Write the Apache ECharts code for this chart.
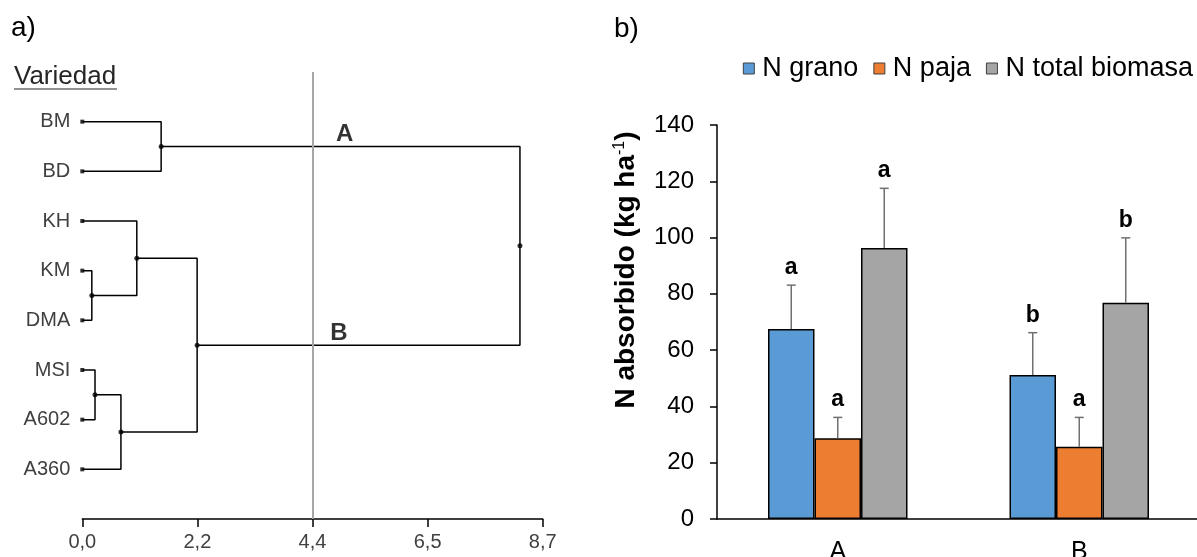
<!DOCTYPE html>
<html>
<head>
<meta charset="utf-8">
<script src="https://cdn.jsdelivr.net/npm/echarts@6/dist/echarts.min.js"></script>
<style>
html,body{margin:0;padding:0;background:#fff;}
#main{width:1197px;height:557px;}
</style>
</head>
<body>
<div id="main"></div>
<script>
var chart = echarts.init(document.getElementById('main'));

// a) dendrograma
var leaves = ['BM', 'BD', 'KH', 'KM', 'DMA', 'MSI', 'A602', 'A360'];
// fusiones estilo hclust: negativo = hoja, positivo = fusion anterior
var mergeLeft = [-4, -6, 2, -3, -1, 4, 5];
var mergeRight = [-5, -7, -8, 1, -2, 3, 6];
var mergeHeight = [0.18, 0.24, 0.73, 1.03, 1.49, 2.17, 8.27];
var xTickLabels = ['0,0', '2,2', '4,4', '6,5', '8,7'];
var cutHeight = 4.35;
var clusterNames = ['A', 'B'];

// b) barras
var groups = ['A', 'B'];
var seriesNames = ['N grano', 'N paja', 'N total biomasa'];
var grano = [67.5, 51.2];
var granoSd = [15.6, 15.0];
var paja = [28.7, 25.7];
var pajaSd = [7.4, 10.4];
var total = [96.3, 76.8];
var totalSd = [21.2, 23.1];
var granoLetters = ['a', 'b'];
var pajaLetters = ['a', 'a'];
var totalLetters = ['a', 'b'];

var colors = ['#5B9BD5', '#ED7D31', '#A5A5A5'];
var BAR_W = 46.5;
var FONT = 'Liberation Sans, Arial, sans-serif';

// posiciones de nodos en el dendrograma
var nodeY = [], nodeH = [];
function childPos(c) {
    if (c < 0) return [0, -c - 1];
    return [nodeH[c - 1], nodeY[c - 1]];
}
var dendroSeries = [];
var nodePoints = [];
for (var k = 0; k < mergeHeight.length; k++) {
    var a = childPos(mergeLeft[k]);
    var b = childPos(mergeRight[k]);
    var h = mergeHeight[k];
    nodeH[k] = h;
    nodeY[k] = (a[1] + b[1]) / 2;
    dendroSeries.push({
        type: 'line',
        xAxisIndex: 0,
        yAxisIndex: 0,
        data: [[a[0], a[1]], [h, a[1]], [h, b[1]], [b[0], b[1]]],
        symbol: 'none',
        silent: true,
        lineStyle: {color: '#000', width: 1.5},
        z: 3
    });
    nodePoints.push([h, nodeY[k]]);
}
var leafPoints = leaves.map(function (n, i) { return [0, i]; });

// la linea de corte
dendroSeries[0].markLine = {
    silent: true,
    symbol: 'none',
    label: {show: false},
    lineStyle: {color: '#a6a6a6', width: 2, type: 'solid'},
    data: [{xAxis: cutHeight}]
};

// etiquetas de los grupos sobre las ramas de la ultima fusion
var last = mergeHeight.length - 1;
var topA = childPos(mergeLeft[last]);
var topB = childPos(mergeRight[last]);
var clusterPts = [[4.96, topA[1], clusterNames[0]], [4.85, topB[1], clusterNames[1]]];

function errSeries(idx, means, sds, letters) {
    var data = means.map(function (m, i) { return [i, m, sds[i], letters[i]]; });
    return {
        type: 'custom',
        xAxisIndex: 1,
        yAxisIndex: 1,
        silent: true,
        z: 10,
        data: data,
        renderItem: function (params, api) {
            var base = api.coord([api.value(0), api.value(1)]);
            var top = api.coord([api.value(0), api.value(1) + api.value(2)]);
            var x = base[0] + (idx - 1) * BAR_W;
            var letter = letters[params.dataIndex];
            return {
                type: 'group',
                children: [
                    {type: 'line', shape: {x1: x, y1: base[1], x2: x, y2: top[1]},
                        style: {stroke: '#707070', lineWidth: 1.5}},
                    {type: 'line', shape: {x1: x - 4.5, y1: top[1], x2: x + 4.5, y2: top[1]},
                        style: {stroke: '#707070', lineWidth: 1.5}},
                    {type: 'text', x: x, y: top[1] - 6,
                        style: {text: letter, textAlign: 'center', textVerticalAlign: 'bottom',
                            font: 'bold 23px ' + FONT, fill: '#000'}}
                ]
            };
        }
    };
}

function barSeries(idx, vals) {
    return {
        name: seriesNames[idx],
        type: 'bar',
        xAxisIndex: 1,
        yAxisIndex: 1,
        data: vals,
        barWidth: BAR_W,
        barGap: '0%',
        itemStyle: {color: colors[idx], borderColor: '#000', borderWidth: 1.5},
        z: 2
    };
}

var option = {
    animation: false,
    backgroundColor: '#fff',
    textStyle: {fontFamily: FONT},
    legend: {
        data: seriesNames,
        right: 4,
        top: 55,
        padding: 0,
        icon: 'rect',
        itemWidth: 11,
        itemHeight: 11,
        itemGap: 15,
        textStyle: {fontSize: 27, color: '#000', fontFamily: FONT, padding: [0, 0, 0, 3]},
        itemStyle: {borderColor: '#404040', borderWidth: 1}
    },
    grid: [
        {left: 82.3, top: 72, width: 460.4, height: 447, outerBoundsMode: 'none'},
        {left: 717, top: 125, right: -3, height: 394, outerBoundsMode: 'none'}
    ],
    xAxis: [
        {
            type: 'value', gridIndex: 0, min: 0, max: 8.7, interval: 2.175,
            position: 'bottom',
            axisLine: {onZero: false, lineStyle: {color: '#000', width: 1.5}},
            axisTick: {inside: false, length: 8, lineStyle: {color: '#000', width: 1.5}},
            splitLine: {show: false},
            axisLabel: {
                fontSize: 20, color: '#404040', margin: 13, fontFamily: FONT,
                formatter: function (v) { return xTickLabels[Math.round(v / 2.175)]; }
            }
        },
        {
            type: 'category', gridIndex: 1, data: groups,
            axisLine: {lineStyle: {color: '#000', width: 1.5}},
            axisTick: {inside: false, length: 7, lineStyle: {color: '#000', width: 1.5}},
            axisLabel: {fontSize: 25, color: '#000', margin: 21, fontFamily: FONT}
        }
    ],
    yAxis: [
        {
            type: 'value', gridIndex: 0, min: -1, max: 8, interval: 1, inverse: true,
            axisLine: {show: false}, axisTick: {show: false}, splitLine: {show: false},
            axisLabel: {
                fontSize: 20, color: '#404040', margin: 12, fontFamily: FONT,
                showMinLabel: true, showMaxLabel: true,
                formatter: function (v) { return leaves[v] || ''; }
            }
        },
        {
            type: 'value', gridIndex: 1, min: 0, max: 140, interval: 20,
            axisLine: {show: true, lineStyle: {color: '#000', width: 1.5}},
            axisTick: {show: true, inside: false, length: 7, lineStyle: {color: '#000', width: 1.5}},
            splitLine: {show: false},
            axisLabel: {fontSize: 24, color: '#000', margin: 23, fontFamily: FONT}
        }
    ],
    graphic: [
        {type: 'text', left: 11, top: 14, style: {text: 'a)', font: '28px ' + FONT, fill: '#000'}},
        {type: 'text', left: 614, top: 15, style: {text: 'b)', font: '28px ' + FONT, fill: '#000'}},
        {type: 'text', left: 14, top: 64, style: {text: 'Variedad', font: '26px ' + FONT, fill: '#262626'}},
        {type: 'line', shape: {x1: 14, y1: 89, x2: 117, y2: 89}, style: {stroke: '#262626', lineWidth: 1.2}},
        {
            type: 'text', x: 626, y: 270, rotation: Math.PI / 2,
            style: {
                text: '{t|N absorbido (kg ha}{s|-1}{t|)}',
                textAlign: 'center', textVerticalAlign: 'middle',
                rich: {
                    t: {fontSize: 28, fontWeight: 'bold', fontFamily: FONT, fill: '#000', color: '#000'},
                    s: {fontSize: 16, fontFamily: FONT, verticalAlign: 'top', color: '#000', fill: '#000'}
                }
            }
        }
    ],
    series: dendroSeries.concat([
        {
            type: 'scatter', xAxisIndex: 0, yAxisIndex: 0, silent: true,
            data: leafPoints, symbol: 'rect', symbolSize: 4,
            itemStyle: {color: '#000'}, z: 4
        },
        {
            type: 'scatter', xAxisIndex: 0, yAxisIndex: 0, silent: true,
            data: nodePoints, symbol: 'circle', symbolSize: 5,
            itemStyle: {color: '#000'}, z: 4
        },
        {
            type: 'scatter', xAxisIndex: 0, yAxisIndex: 0, silent: true,
            data: clusterPts, symbolSize: 0,
            label: {
                show: true, position: 'top', distance: 0,
                formatter: function (p) { return p.data[2]; },
                fontSize: 24, fontWeight: 'bold', color: '#000', fontFamily: FONT
            }
        },
        barSeries(0, grano),
        barSeries(1, paja),
        barSeries(2, total),
        errSeries(0, grano, granoSd, granoLetters),
        errSeries(1, paja, pajaSd, pajaLetters),
        errSeries(2, total, totalSd, totalLetters)
    ])
};
chart.setOption(option);
</script>
</body>
</html>
